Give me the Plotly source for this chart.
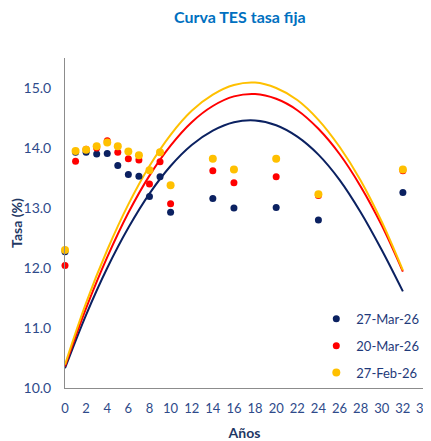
import plotly.graph_objects as go

# Observed points (years, rate %)
plazos = [0, 1, 2, 3, 4, 5, 6, 7, 8, 9, 10, 14, 16, 20, 24, 32]
tasa_27mar = [12.27, 13.93, 13.93, 13.90, 13.91, 13.71, 13.56, 13.53, 13.19, 13.52, 12.93, 13.16, 13.00, 13.01, 12.80, 13.26]
tasa_20mar = [12.04, 13.78, 13.98, 14.00, 14.12, 13.93, 13.82, 13.80, 13.40, 13.77, 13.07, 13.62, 13.42, 13.52, 13.21, 13.62]
tasa_27feb = [12.30, 13.95, 13.97, 14.03, 14.09, 14.03, 13.94, 13.88, 13.63, 13.93, 13.38, 13.82, 13.64, 13.82, 13.23, 13.64]

# Fitted curves
curva_x = [0, 2, 4, 6, 8, 10, 12, 14, 16, 18, 20, 22, 24, 26, 28, 30, 32]
curva_27mar = [10.33, 11.22, 12.00, 12.67, 13.24, 13.70, 14.05, 14.29, 14.43, 14.46, 14.38, 14.19, 13.89, 13.47, 12.93, 12.30, 11.61]
curva_20mar = [10.36, 11.33, 12.18, 12.92, 13.54, 14.04, 14.43, 14.70, 14.86, 14.90, 14.82, 14.63, 14.32, 13.90, 13.36, 12.71, 11.94]
curva_27feb = [10.39, 11.42, 12.30, 13.06, 13.70, 14.22, 14.62, 14.89, 15.05, 15.09, 15.00, 14.80, 14.47, 14.02, 13.46, 12.77, 11.96]

x_ticks = list(range(0, 35, 2))
y_ticks = [10.0, 11.0, 12.0, 13.0, 14.0, 15.0]

NAVY = "#0b2161"
RED = "#ff0000"
YEL = "#ffc000"
FONT = "Lato"
TICKFONT = dict(family=FONT, size=13, color="#2e4a8a")

fig = go.Figure()
for cx, cy, col in [(curva_x, curva_27mar, NAVY), (curva_x, curva_20mar, RED), (curva_x, curva_27feb, YEL)]:
    fig.add_trace(go.Scatter(x=cx, y=cy, mode="lines", line=dict(color=col, width=2, shape="spline"),
                             showlegend=False, hoverinfo="skip"))

for name, ys, col, sz, grp in [("27-Mar-26", tasa_27mar, NAVY, 7, "a"),
                               ("20-Mar-26", tasa_20mar, RED, 7, "b"),
                               ("27-Feb-26", tasa_27feb, YEL, 8, "c")]:
    fig.add_trace(go.Scatter(x=plazos, y=ys, mode="markers", name=name, legendgroup=grp,
                             marker=dict(color=col, size=sz), cliponaxis=False))

# the page body adds an 8px offset; the figure is sized to fit the 431x441 window
fig.update_layout(
    width=423, height=433,
    margin=dict(l=57, r=7, t=50, b=53, autoexpand=False),
    paper_bgcolor="white", plot_bgcolor="white",
    title=dict(text="<b>Curva TES tasa fija</b>", x=0.548, xanchor="center", y=0.992, yanchor="top",
               font=dict(family=FONT, size=16, color="#0070c0")),
    legend=dict(x=0.7, y=0.255, xanchor="left", yanchor="top", tracegroupgap=7,
                font=dict(family=FONT, size=13, color="#1f3a7a"), bgcolor="rgba(0,0,0,0)",
                itemwidth=30),
    showlegend=True,
)
# last tick label sits at the right edge of the page (partly cut in the original)
fig.add_annotation(x=x_ticks[-1], y=0, xref="x", yref="paper", yanchor="top", yshift=-10,
                   text=str(x_ticks[-1]), showarrow=False, font=TICKFONT)
fig.update_xaxes(range=[0, 34], tickvals=x_ticks[:-1], ticktext=[str(v) for v in x_ticks[:-1]],
                 showgrid=False, zeroline=False, showline=True, linecolor="#8c8c8c", linewidth=1,
                 ticks="", ticklabelstandoff=8, automargin=False,
                 tickfont=TICKFONT,
                 title=dict(text="<b>Años</b>", font=dict(family=FONT, size=14, color="#1f3864"), standoff=18))
fig.update_yaxes(range=[10, 15.5], tickvals=y_ticks, ticktext=[f"{v:.1f}" for v in y_ticks],
                 showgrid=False, zeroline=False, showline=True, linecolor="#8c8c8c", linewidth=1,
                 ticks="", ticklabelstandoff=10, automargin=False,
                 tickfont=dict(family=FONT, size=14, color="#2e4a8a"),
                 title=dict(text="<b>Tasa (%)</b>", font=dict(family=FONT, size=14, color="#1f3864"), standoff=4))

fig.write_html("out.html")
